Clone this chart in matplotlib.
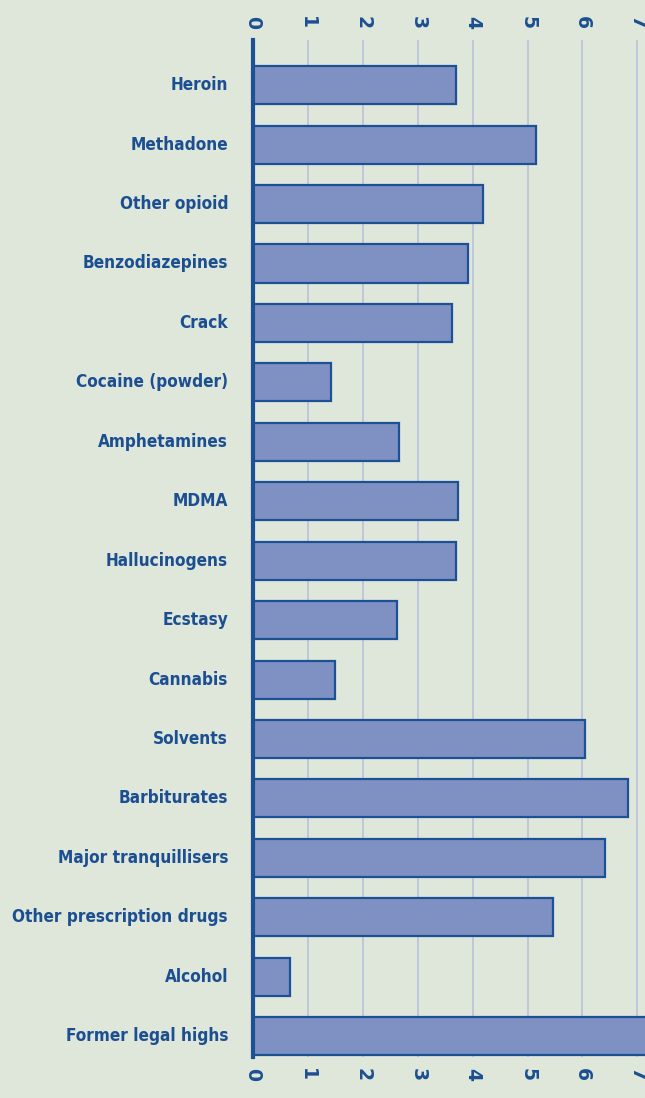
import numpy as np
import matplotlib
matplotlib.use("Agg")
import matplotlib.pyplot as plt
from matplotlib import font_manager

# data
categories = ["Heroin", "Methadone", "Other opioid", "Benzodiazepines", "Crack",
              "Cocaine (powder)", "Amphetamines", "MDMA", "Hallucinogens", "Ecstasy",
              "Cannabis", "Solvents", "Barbiturates", "Major tranquillisers",
              "Other prescription drugs", "Alcohol", "Former legal highs"]
values = [3.70, 5.15, 4.19, 3.92, 3.62, 1.42, 2.66, 3.73, 3.70, 2.62,
          1.49, 6.05, 6.83, 6.41, 5.46, 0.67, 7.6]
x_ticks = [0, 1, 2, 3, 4, 5, 6, 7]

BG = "#dfe6da"
BAR = "#7f91c2"
EDGE = "#1d5196"
TXT = "#1b4f91"
GRID = "#bcc5d8"

# pick a condensed bold face if one is installed
names = {f.name for f in font_manager.fontManager.ttflist}
if "Liberation Sans Narrow" in names:
    font, stretch, size = ["Liberation Sans Narrow"], "normal", 14
elif any(f.name == "DejaVu Sans" and f.stretch == "condensed"
         for f in font_manager.fontManager.ttflist):
    font, stretch, size = ["DejaVu Sans"], "condensed", 12.3
else:
    font, stretch, size = ["Liberation Sans"], "normal", 12.5

fig = plt.figure(figsize=(6.45, 10.98), dpi=100, facecolor=BG)
ax = fig.add_axes([253 / 645, 1 - 1057 / 1098, 1 - 253 / 645 + 0.001, (1057 - 40) / 1098])
ax.set_facecolor(BG)

y = np.arange(len(categories))
ax.barh(y, values, height=0.64, color=BAR, edgecolor=EDGE, linewidth=1.6, zorder=3)

ax.set_xlim(0, 7.15)
ax.set_ylim(16.35, -0.76)

ax.set_xticks(x_ticks)
ax.grid(axis="x", color=GRID, linewidth=1.3, zorder=0)
ax.tick_params(axis="x", top=True, labeltop=True, bottom=True, labelbottom=True,
               length=0, pad=8, labelsize=13.5, labelcolor=TXT, labelrotation=-90)
for lab in ax.get_xticklabels():
    lab.set_fontweight("bold")
    lab.set_family(font)

ax.set_yticks(y)
ax.set_yticklabels(categories, fontsize=size, color=TXT, fontweight="bold",
                   family=font, fontstretch=stretch)
ax.tick_params(axis="y", length=0, pad=18)
for lab in ax.get_yticklabels():
    lab.set_va("center")

for s in ["top", "right", "bottom"]:
    ax.spines[s].set_visible(False)
ax.spines["left"].set_color(EDGE)
ax.spines["left"].set_linewidth(3)
ax.spines["left"].set_zorder(4)

fig.savefig("out.png", dpi=100, facecolor=BG)
